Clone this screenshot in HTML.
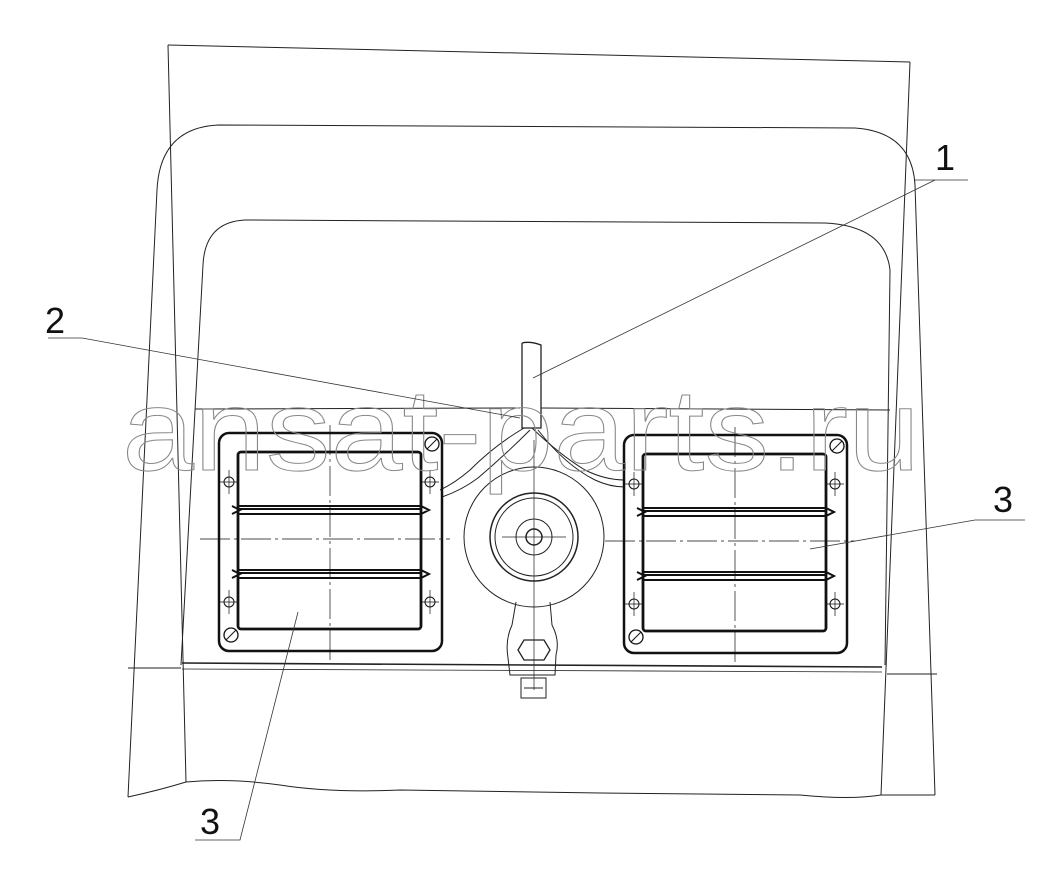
<!DOCTYPE html>
<html><head><meta charset="utf-8"><style>
html,body{margin:0;padding:0;background:#fff;width:1050px;height:879px;overflow:hidden}
svg{display:block}
</style></head><body>
<svg width="1050" height="879" viewBox="0 0 1050 879" xmlns="http://www.w3.org/2000/svg" font-family="Liberation Sans, sans-serif">
<g fill="none" stroke="#222" stroke-width="1">
<path d="M168,45 L910,62"/>
<path d="M168,45 L186,782"/>
<path d="M910,62 L881,795"/>
<path d="M128,797 L157,190 Q160,128 218,125 L855,128 Q912,132 915,185 L935,795"/>
<path d="M181,665 L203,265 Q205,222 245,220 L825,223 Q885,226 890,270 L885,665"/>
<path d="M128,797 Q160,790 186,782 Q230,778 280,785 Q330,793 400,790 L600,793 L800,795 Q850,800 881,795 L935,795"/>
<path d="M128,668 L181,668"/>
<path d="M887,674 L937,674"/>
<path d="M182,663 L882,667" stroke-width="1.6"/>
<path d="M182,669 L882,672" stroke-width="0.8"/>
<path d="M195,409 L520,408 M541,408 L890,410"/>
<path d="M522,343 L522,428 L541,428 L541,345 Q530,341 522,343" stroke-width="1.3"/>
<path d="M524,428 Q495,445 470,470 Q455,483 440,490"/>
<path d="M530,430 Q505,455 478,478 Q462,490 442,497"/>
<path d="M532,428 Q560,455 585,470 Q605,480 625,480"/>
<path d="M538,430 Q565,465 595,480 Q610,487 625,487"/>
<circle cx="534" cy="537" r="70"/>
<circle cx="534" cy="537" r="44" stroke-width="1.5"/>
<circle cx="534" cy="537" r="39"/>
<circle cx="534" cy="537" r="18"/>
<circle cx="534" cy="537" r="8" stroke-width="1.5"/>
<path d="M502,537 L566,537 M534,440 L534,690" stroke-width="0.7"/>
<path d="M516,602 L512,625 Q505,640 508,658 L510,675 L555,675 L556,655 Q560,640 552,625 L550,602"/>
<path d="M524,640 L544,640 L550,650 L544,660 L524,660 L518,650 Z" stroke-width="1.3"/>
<path d="M521,678 L546,678 L546,698 L521,698 Z M524,688 L543,688"/>
</g>
<g fill="none" stroke="#111">
<g id="v">
<rect x="219" y="433" width="223" height="218" rx="10" stroke-width="2.5"/>
<rect x="238" y="452" width="183" height="177" rx="3" stroke-width="2.8"/>
<path d="M232,506 L240,510 L232,514 M238,506 L421,506 L429,510 L421,514 L238,514 M238,509 L421,509" stroke-width="2"/>
<path d="M232,570 L240,574 L232,578 M238,570 L421,570 L429,574 L421,578 L238,578 M238,573 L421,573" stroke-width="2"/>
<path d="M330,425 L330,660 M200,539 L450,539" stroke-width="0.7" stroke-dasharray="30,4,3,4"/>
<circle cx="229" cy="482" r="5" stroke-width="1"/><path d="M229,470 L229,494 M220,482 L238,482" stroke-width="0.7"/>
<circle cx="430" cy="482" r="5" stroke-width="1"/><path d="M430,470 L430,494 M421,482 L439,482" stroke-width="0.7"/>
<circle cx="229" cy="602" r="5" stroke-width="1"/><path d="M229,590 L229,614 M220,602 L238,602" stroke-width="0.7"/>
<circle cx="430" cy="602" r="5" stroke-width="1"/><path d="M430,590 L430,614 M421,602 L439,602" stroke-width="0.7"/>
<circle cx="432" cy="444" r="7" stroke-width="1.3"/><path d="M427,449 L437,439" stroke-width="1"/>
<circle cx="231" cy="635" r="7" stroke-width="1.3"/><path d="M226,640 L236,630" stroke-width="1"/>
</g>
<use href="#v" transform="translate(405,2)"/>
</g>
<text x="122" y="470" font-size="116" textLength="798" lengthAdjust="spacingAndGlyphs" fill="none" stroke="#888" stroke-width="1">ansat-parts.ru</text>
<g stroke="#333" stroke-width="0.8" fill="none">
<path d="M915,180 L968,180 M935,180 L533,378"/>
<path d="M48,338 L82,338 L520,418"/>
<path d="M975,520 L1025,520 M975,520 L810,549"/>
<path d="M195,840 L240,840 L298,612"/>
</g>
<g font-size="36" fill="#111">
<text x="935" y="170">1</text>
<text x="45" y="333">2</text>
<text x="993" y="512">3</text>
<text x="200" y="834">3</text>
</g>
</svg>
</body></html>
